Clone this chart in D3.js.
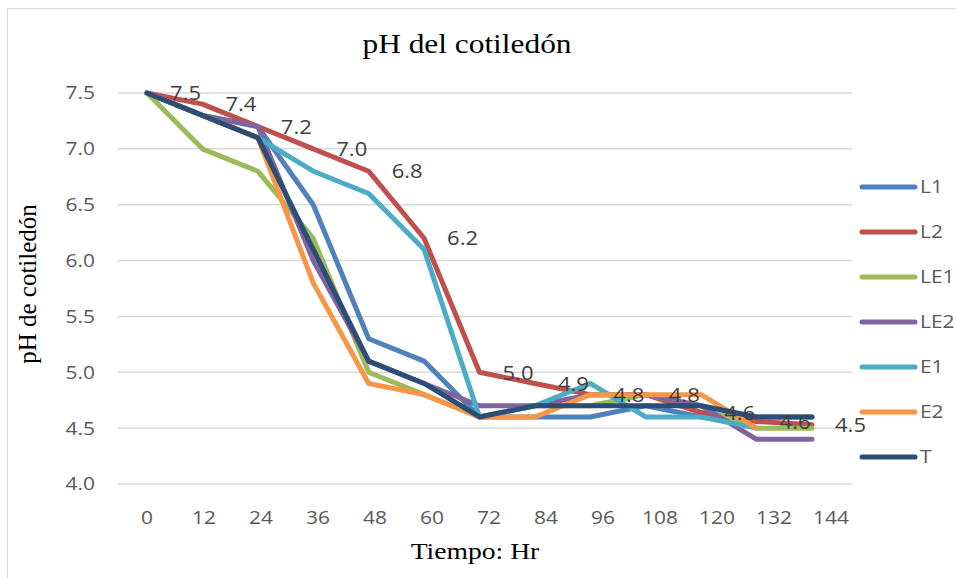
<!DOCTYPE html>
<html><head><meta charset="utf-8">
<script src="https://cdn.jsdelivr.net/npm/d3@7"></script>
<style>body{margin:0;background:#fff}svg{display:block}</style>
</head><body>
<svg id="c" width="956" height="578"></svg>
<script>
const hours = ["0","12","24","36","48","60","72","84","96","108","120","132","144"];
const yTicks = [4.0,4.5,5.0,5.5,6.0,6.5,7.0,7.5];
const seriesNames = ["L1","L2","LE1","LE2","E1","E2","T"];
const L1  = [7.5,7.3,7.2,6.5,5.3,5.1,4.6,4.6,4.6,4.7,4.6,4.6,4.6];
const L2  = [7.5,7.4,7.2,7.0,6.8,6.2,5.0,4.9,4.8,4.8,4.64,4.56,4.53];
const LE1 = [7.5,7.0,6.8,6.2,5.0,4.8,4.6,4.7,4.7,4.8,4.7,4.5,4.5];
const LE2 = [7.5,7.3,7.2,6.0,5.1,4.9,4.7,4.7,4.8,4.8,4.7,4.4,4.4];
const E1  = [7.5,7.3,7.1,6.8,6.6,6.1,4.6,4.7,4.9,4.6,4.6,4.5,null];
const E2  = [7.5,7.3,7.1,5.8,4.9,4.8,4.6,4.6,4.8,4.8,4.8,4.5,null];
const T   = [7.5,7.3,7.1,6.1,5.1,4.9,4.6,4.7,4.7,4.7,4.7,4.6,4.6];
const seriesValues = [L1,L2,LE1,LE2,E1,E2,T];
const colors = ["#4F81BD","#C0504D","#9BBB59","#8064A2","#4BACC6","#F79646","#2C4D75"];
const labelSeries = "L2";

const SANS = "'Open Sans', 'Noto Sans', sans-serif";
const SERIF = "'Liberation Serif', 'Times New Roman', serif";
const STRETCH = 1.13;
function stretch(sel, f){
  sel.each(function(){
    const len = this.getComputedTextLength();
    d3.select(this).attr("textLength", len*f).attr("lengthAdjust","spacingAndGlyphs");
  });
}

const svg = d3.select("#c");
svg.append("rect").attr("x",7.5).attr("y",8.5).attr("width",1000).attr("height",1000)
  .attr("fill","#fff").attr("stroke","#d9d9d9").attr("stroke-width",1);

const plotL = 118, plotR = 852, plotT = 93, plotB = 484;
const y = d3.scaleLinear().domain([4.0,7.5]).range([plotB,plotT]);
const xAxisScale = d3.scaleBand().domain(hours).range([118.5,859.5]);
const xPts = d3.scalePoint().domain(hours).range([147,812]);

// gridlines
svg.append("g").selectAll("line").data(yTicks).join("line")
  .attr("x1",plotL).attr("x2",plotR)
  .attr("y1",d=>y(d)).attr("y2",d=>y(d))
  .attr("stroke","#d9d9d9").attr("stroke-width",1.5);

// y axis
const yAx = svg.append("g").attr("transform",`translate(${plotL},0)`)
  .call(d3.axisLeft(y).tickValues(yTicks).tickFormat(d3.format(".1f")).tickSize(0).tickPadding(23));
yAx.select(".domain").remove();
yAx.selectAll("text").attr("font-family",SANS).attr("font-size",18.5).attr("fill","#595959").call(stretch,STRETCH);

// x axis
const xAx = svg.append("g").attr("transform",`translate(0,${plotB})`)
  .call(d3.axisBottom(xAxisScale).tickSize(0).tickPadding(27));
xAx.select(".domain").remove();
xAx.selectAll("text").attr("font-family",SANS).attr("font-size",18.5).attr("fill","#595959").call(stretch,STRETCH);

// lines
const line = d3.line().defined(d=>d.v!=null).x(d=>xPts(d.h)).y(d=>y(d.v));
seriesNames.forEach((name,i)=>{
  const data = hours.map((h,j)=>({h, v: seriesValues[i][j]}));
  svg.append("path").datum(data).attr("d",line)
    .attr("fill","none").attr("stroke",colors[i])
    .attr("stroke-width", 5)
    .attr("stroke-linejoin","round").attr("stroke-linecap","round");
});

// data labels for L2
const li = seriesNames.indexOf(labelSeries);
svg.append("g").selectAll("text").data(hours.map((h,j)=>({h,v:seriesValues[li][j]}))).join("text")
  .attr("x",d=>xPts(d.h)+23).attr("y",d=>y(d.v)+2)
  .attr("dominant-baseline","middle")
  .attr("font-family",SANS).attr("font-size",19.5).attr("fill","#404040")
  .text(d=>d3.format(".1f")(d.v)).call(stretch,STRETCH);

// legend
const lg = svg.append("g");
seriesNames.forEach((name,i)=>{
  const yy = 187 + i*45;
  lg.append("line").attr("x1",862).attr("x2",915).attr("y1",yy).attr("y2",yy)
    .attr("stroke",colors[i]).attr("stroke-width",5).attr("stroke-linecap","round");
  lg.append("text").attr("x",920).attr("y",yy+1).attr("dominant-baseline","middle")
    .attr("font-family",SANS).attr("font-size",18.5).attr("fill","#595959")
    .text(name).call(stretch,STRETCH);
});

// titles
svg.append("text").attr("x",467).attr("y",53).attr("text-anchor","middle")
  .attr("font-family",SERIF).attr("font-size",28).attr("fill","#000")
  .text("pH del cotiledón").call(stretch,1.12);
svg.append("text").attr("x",475).attr("y",559).attr("text-anchor","middle")
  .attr("font-family",SERIF).attr("font-size",24).attr("fill","#000")
  .text("Tiempo: Hr").call(stretch,1.15);
svg.append("text").attr("transform","translate(36,284) rotate(-90)").attr("text-anchor","middle")
  .attr("font-family",SERIF).attr("font-size",25).attr("fill","#000")
  .text("pH de cotiledón");
</script>
</body></html>
